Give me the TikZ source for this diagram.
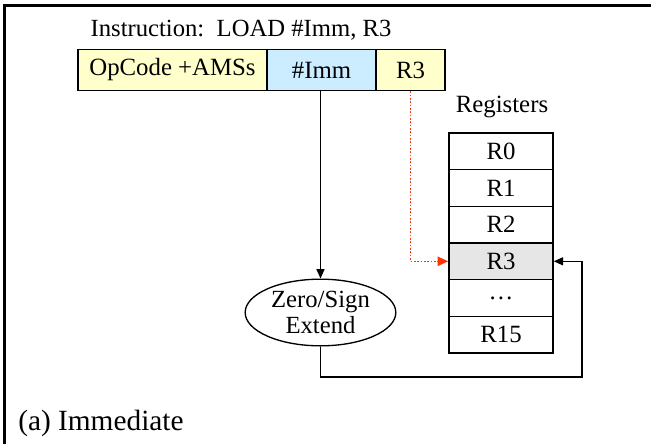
\documentclass[tikz,border=0pt]{standalone}
\usepackage{fontspec}
\setmainfont{Liberation Serif}
\usetikzlibrary{arrows.meta,shapes.geometric}
\definecolor{opyellow}{HTML}{FFFFCC}
\definecolor{immblue}{HTML}{CCECFF}
\definecolor{selgray}{HTML}{E6E6E6}
\definecolor{ptrred}{HTML}{FF3300}
\begin{document}
\begin{tikzpicture}[x=0.75pt,y=-0.75pt,
  field/.style={draw,line width=1.1pt,inner sep=0pt,minimum height=31pt,font=\fontsize{18.6}{21}\selectfont},
  reg/.style={draw,line width=1.1pt,inner sep=0pt,minimum width=78pt,minimum height=27.5pt,font=\fontsize{18.6}{21}\selectfont},
  lbl/.style={inner sep=0pt,font=\fontsize{18.5}{21}\selectfont},
  conn/.style={line width=0.9pt,-{Triangle[length=7pt,width=6pt]}}]
\useasboundingbox (0,0) rectangle (651,444);
% frame
\draw[line width=2pt] (4.5,444) -- (4.5,5.5) -- (651,5.5);
% instruction word
\node[lbl] (title) at (241,30) {Instruction:\ \ LOAD \#Imm, R3};
\node[field,fill=opyellow,minimum width=141.75pt] (opc) at (172.5,70) {OpCode +AMSs};
\node[field,fill=immblue,minimum width=81.75pt] (imm) at (321.5,70) {\#Imm};
\node[field,fill=opyellow,minimum width=51.75pt] (r3f) at (410.5,70) {R3};
% register file
\node[lbl,font=\fontsize{18.6}{21}\selectfont] (regs) at (502,107) {Registers};
\node[reg] (r0) at (501,151.3) {R0};
\node[reg] (r1) at (501,188) {R1};
\node[reg] (r2) at (501,224.7) {R2};
\node[reg,fill=selgray] (r3) at (501,261.3) {R3};
\node[reg] (rd) at (501,298) {\ldots};
\node[reg] (r15) at (501,334.7) {R15};
% extender
\node[draw,ellipse,line width=1pt,inner sep=0pt,minimum width=113pt,minimum height=50pt,
  align=center,font=\fontsize{18.5}{20}\selectfont] (ext) at (320.5,312.5) {Zero/Sign\\Extend};
% connections
\draw[conn] (ext.north |- imm.south) -- (ext.north);
\coordinate (back) at (582,377);
\draw[conn] (ext.south) |- (back) |- (r3.east);
\draw[ptrred,line width=1.1pt,dash pattern=on 1.2pt off 1.3pt,-{Triangle[length=8pt,width=7pt]}] (r3f.south) |- (r3.west);
% caption
\node[anchor=west,inner sep=0pt,font=\fontsize{22}{26}\selectfont] (cap) at (18,423) {(a) Immediate};
\end{tikzpicture}
\end{document}
